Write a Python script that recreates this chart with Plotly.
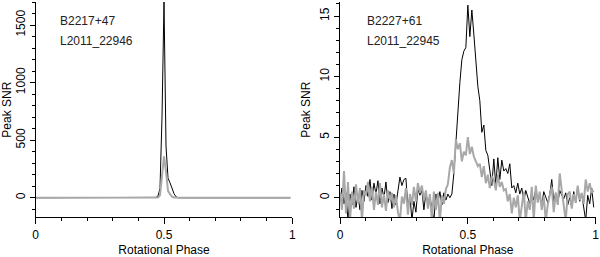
import plotly.graph_objects as go
from plotly.subplots import make_subplots

# phase bins (128 per rotation)
phase = [i / 128 for i in range(128)]

# B2217+47 / L2011_22946 : peak SNR per bin
b2217_black = [
    0, 0, 0, 0, 0, 0, 0, 0, 0, 0, 0, 0, 0, 0, 0, 0,
    0, 0, 0, 0, 0, 0, 0, 0, 0, 0, 0, 0, 0, 0, 0, 0,
    0, 0, 0, 0, 0, 0, 0, 0, 0, 0, 0, 0, 0, 0, 0, 0,
    0, 0, 0, 0, 0, 0, 0, 0, 0, 0, 0, 0, 3, 15, 80, 700,
    1700, 450, 170, 130, 80, 35, 8, 0, 0, 0, 0, 0, 0, 0, 0, 0,
    0, 0, 0, 0, 0, 0, 0, 0, 0, 0, 0, 0, 0, 0, 0, 0,
    0, 0, 0, 0, 0, 0, 0, 0, 0, 0, 0, 0, 0, 0, 0, 0,
    0, 0, 0, 0, 0, 0, 0, 0, 0, 0, 0, 0, 0, 0, 0, 0,
]
b2217_gray = [
    0, 0, 0, 0, 0, 0, 0, 0, 0, 0, 0, 0, 0, 0, 0, 0,
    0, 0, 0, 0, 0, 0, 0, 0, 0, 0, 0, 0, 0, 0, 0, 0,
    0, 0, 0, 0, 0, 0, 0, 0, 0, 0, 0, 0, 0, 0, 0, 0,
    0, 0, 0, 0, 0, 0, 0, 0, 0, 0, 0, 0, 0, 2, 20, 200,
    360, 230, 60, 30, 10, 2, 0, 0, 0, 0, 0, 0, 0, 0, 0, 0,
    0, 0, 0, 0, 0, 0, 0, 0, 0, 0, 0, 0, 0, 0, 0, 0,
    0, 0, 0, 0, 0, 0, 0, 0, 0, 0, 0, 0, 0, 0, 0, 0,
    0, 0, 0, 0, 0, 0, 0, 0, 0, 0, 0, 0, 0, 0, 0, 0,
]

# B2227+61 / L2011_22945
b2227_black = [
    -0.2, 0.8, -0.5, 0.4, -1.9, 0.3, -0.6, 0.9, -0.8, 0.2, -1.0, 0.6, -0.3, 1.0, 0.1, 1.5,
    -0.2, 1.2, 0.3, 1.4, -0.5, 0.8, 0.0, 1.3, -0.4, 0.5, -0.9, 0.3, -0.6, 0.4, 1.7, 1.0,
    1.5, 1.6, -0.8, 0.2, -1.9, -0.3, -1.2, 0.7, 0.2, 0.6, -1.0, 0.4, -0.5, 0.1, -0.8, -1.9,
    0.3, -0.4, 0.5, -0.6, 0.4, -0.2, 0.3, 0.0, 0.3, 2.0, 4.5, 7.5, 9.5, 11.4, 12.1, 12.4,
    15.9, 13.3, 15.5, 13.5, 11.0, 9.2, 8.0, 5.4, 6.0, 3.9, 3.5, 2.0, 1.0, 3.2, 1.0, 3.3,
    1.5, 3.1, 2.2, 2.4, 2.0, 2.8, 0.8, 1.0, 0.4, 1.2, 0.3, 0.8, -0.3, 0.6, 0.1, -0.5,
    0.4, -0.2, 0.7, -0.3, 0.2, -0.6, 0.5, 0.1, -0.4, 0.3, 1.5, -0.3, 0.4, -0.5, 0.6, 0.2,
    -0.1, 0.4, -0.6, 0.0, -0.8, 0.5, -0.4, 0.9, -0.3, 0.3, -0.9, -1.9, 0.2, -0.5, 0.8, -0.8,
]
b2227_gray = [
    0.4, -1.0, 2.2, -1.3, 1.3, -1.9, 0.5, -0.9, 1.1, -0.4, 0.8, -1.9, 0.6, 0.2, 1.3, -0.3,
    0.9, -1.0, 0.5, -0.6, 1.2, -0.8, 0.3, -1.1, 0.6, -0.2, 0.4, -0.8, 0.2, -1.2, -1.9, 0.1,
    -0.5, 0.8, -1.4, 0.3, -0.6, 0.9, -0.3, 1.2, 0.4, 1.0, -0.2, 0.6, -0.9, 0.3, -1.9, 0.5,
    -1.0, 0.4, -1.9, 0.2, -0.5, 0.7, 1.1, 2.5, 3.1, 2.0, 4.8, 4.0, 4.5, 3.0, 3.8, 3.5,
    5.0, 3.6, 4.2, 3.4, 3.0, 2.6, 2.8, 1.7, 2.6, 1.2, 1.9, 0.8, 1.8, 1.5, 0.6, 1.9,
    0.9, 1.3, 0.6, 0.7, -0.3, 0.3, -1.3, 0.0, -0.8, 0.2, -1.9, -0.6, 0.5, -1.9, -0.3, -1.0,
    0.9, -1.9, 1.0, -0.4, 0.5, -1.0, 0.1, -1.9, -0.6, 0.2, 0.9, -1.2, 0.4, -0.6, 2.0, 0.6,
    -0.8, -1.9, 0.3, 0.5, -0.9, 0.3, -0.4, 1.0, -0.2, 0.4, -0.5, 1.5, 0.5, 1.2, 0.4, 0.6,
]

labels_left = ["B2217+47", "L2011_22946"]
labels_right = ["B2227+61", "L2011_22945"]

BLACK = "#000000"
GRAY = "#a8a8a8"
FONT = "Liberation Sans, Arial, sans-serif"

fig = make_subplots(rows=1, cols=2)

fig.add_trace(go.Scatter(x=phase, y=b2217_black, mode="lines",
                         line=dict(color=BLACK, width=1)), row=1, col=1)
fig.add_trace(go.Scatter(x=phase, y=b2217_gray, mode="lines",
                         line=dict(color=GRAY, width=2)), row=1, col=1)
fig.add_trace(go.Scatter(x=phase, y=b2227_black, mode="lines",
                         line=dict(color=BLACK, width=1)), row=1, col=2)
fig.add_trace(go.Scatter(x=phase, y=b2227_gray, mode="lines",
                         line=dict(color=GRAY, width=2)), row=1, col=2)

W, H = 600, 257
ydom = [1 - 217.3 / H, 1 - 2 / H]

xcommon = dict(
    range=[0, 1], tickvals=[0, 0.5, 1], ticktext=["0", "0.5", "1"],
    ticks="outside", ticklen=6, tickwidth=1, tickcolor="black",
    minor=dict(dtick=0.1, ticks="outside", ticklen=3, tickcolor="black", tickwidth=1),
    showline=True, linecolor="black", linewidth=1, mirror=False,
    showgrid=False, zeroline=False, automargin=False,
    tickfont=dict(family=FONT, size=12, color="black"),
    title=dict(text="Rotational Phase", font=dict(family=FONT, size=12, color="black"),
               standoff=6),
)
ycommon = dict(
    ticks="outside", ticklen=5, tickwidth=1, tickcolor="black",
    showline=True, linecolor="black", linewidth=1, automargin=False,
    showgrid=False, zeroline=False, tickangle=-90,
    tickfont=dict(family=FONT, size=12, color="black"),
    title=dict(text="Peak SNR", font=dict(family=FONT, size=12, color="black"),
               standoff=4),
)

fig.update_xaxes(**xcommon)
fig.update_yaxes(**ycommon)
fig.update_layout(
    xaxis=dict(domain=[35.7 / W, 292.3 / W]),
    xaxis2=dict(domain=[340 / W, 595.7 / W]),
    yaxis=dict(domain=ydom, range=[-170, 1700], tickvals=[0, 500, 1000, 1500],
               minor=dict(dtick=100, ticks="outside", ticklen=3, tickcolor="black")),
    yaxis2=dict(domain=ydom, range=[-1.62, 16.16], tickvals=[0, 5, 10, 15],
                minor=dict(dtick=1, ticks="outside", ticklen=3, tickcolor="black")),
    width=W, height=H, margin=dict(l=0, r=0, t=0, b=0),
    paper_bgcolor="white", plot_bgcolor="white", showlegend=False,
)

for ref, labels, x0 in (("x", labels_left, 58.3 / W), ("x2", labels_right, 365.3 / W)):
    for k, txt in enumerate(labels):
        fig.add_annotation(xref="paper", yref="paper", x=x0, y=1 - (21 + 19.5 * k) / H,
                           text=txt, showarrow=False, xanchor="left", yanchor="middle",
                           font=dict(family=FONT, size=12, color="#222222"))

# page has a default 8px body margin; drop it so the figure sits at 0,0
fig.write_html("out.html", config={"displayModeBar": False},
               post_script="document.body.style.margin='0';")
